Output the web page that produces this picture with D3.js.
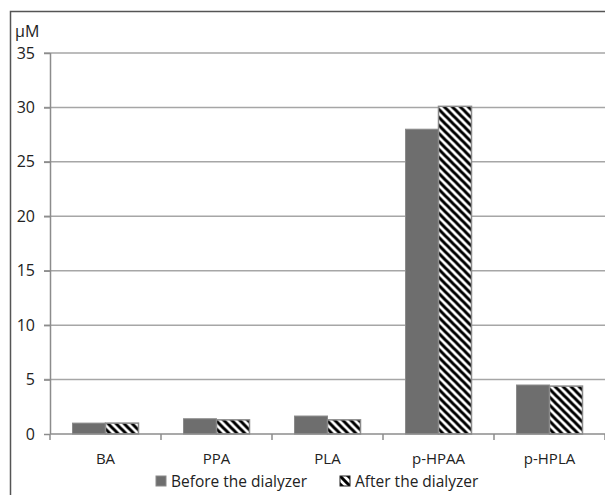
<!DOCTYPE html>
<html>
<head>
<meta charset="utf-8">
<script src="https://cdn.jsdelivr.net/npm/d3@7"></script>
<style>
	body { margin: 0; background: #fff; }
	svg text { font-family: "Open Sans", "Liberation Sans", sans-serif; fill: #222; }
</style>
</head>
<body>
<svg id="chart" width="605" height="495"></svg>
<script>
// chart data
var categories = ["BA", "PPA", "PLA", "p-HPAA", "p-HPLA"];
var seriesNames = ["Before the dialyzer", "After the dialyzer"];
var beforeValues = [1.0, 1.4, 1.65, 28.0, 4.5];
var afterValues = [1.0, 1.3, 1.3, 30.1, 4.4];
var yTicks = [0, 5, 10, 15, 20, 25, 30, 35];

var margin = {top: 53, right: 0, bottom: 61, left: 50},
	width = 605 - margin.left - margin.right,
	height = 495 - margin.top - margin.bottom;

var svg = d3.select("#chart");

// hatch pattern for the "after" series
var defs = svg.append("defs");
var pat = defs.append("pattern")
	.attr("id", "hatch")
	.attr("patternUnits", "userSpaceOnUse")
	.attr("width", 8)
	.attr("height", 8);
pat.append("rect").attr("width", 8).attr("height", 8).attr("fill", "#fff");
pat.append("path")
	.attr("d", "M-2,-2 L10,10 M-2,6 L2,10 M6,-2 L10,2")
	.attr("stroke", "#000")
	.attr("stroke-width", 3);

// outer frame (only left and top visible in the crop)
svg.append("path")
	.attr("d", "M10.5,495 L10.5,11.5 L605,11.5")
	.attr("fill", "none")
	.attr("stroke", "#555")
	.attr("stroke-width", 1.5);

var chart = svg.append("g")
	.attr("transform", "translate(" + margin.left + "," + margin.top + ")");

var x = d3.scaleBand()
	.domain(categories)
	.range([0, width]);

var y = d3.scaleLinear()
	.domain([0, 35])
	.range([height, 0]);

// gridlines
chart.selectAll(".grid")
	.data(yTicks.slice(1))
  .enter().append("line")
	.attr("class", "grid")
	.attr("x1", -6)
	.attr("x2", width)
	.attr("y1", function(d) { return y(d); })
	.attr("y2", function(d) { return y(d); })
	.attr("stroke", "#a6a6a6")
	.attr("stroke-width", 1.5);

// y axis
var yAxis = d3.axisLeft(y)
	.tickValues(yTicks)
	.tickSize(6)
	.tickPadding(9);
var yG = chart.append("g").call(yAxis);
yG.select(".domain").attr("stroke", "#8c8c8c").attr("stroke-width", 1.5).attr("d", "M0.5," + height + "V0");
yG.selectAll(".tick line").attr("stroke", "#8c8c8c").attr("stroke-width", 1.5);
yG.selectAll(".tick text").style("font-size", "16px").attr("fill", "#222");

// y unit
chart.append("text")
	.attr("x", -35)
	.attr("y", -16)
	.style("font-size", "16px")
	.text("\u03bcM");

// bars
var barW = 33;
var groups = chart.selectAll(".group")
	.data(categories)
  .enter().append("g")
	.attr("transform", function(d) { return "translate(" + (x(d) + x.bandwidth() / 2) + ",0)"; });

groups.append("rect")
	.attr("x", -barW)
	.attr("width", barW)
	.attr("y", function(d, i) { return y(beforeValues[i]); })
	.attr("height", function(d, i) { return height - y(beforeValues[i]); })
	.attr("fill", "#6e6e6e")
	.attr("stroke", "#8a8a8a")
	.attr("stroke-width", 1);

groups.append("rect")
	.attr("x", 0)
	.attr("width", barW)
	.attr("y", function(d, i) { return y(afterValues[i]); })
	.attr("height", function(d, i) { return height - y(afterValues[i]); })
	.attr("fill", "url(#hatch)")
	.attr("stroke", "#8a8a8a")
	.attr("stroke-width", 1.5);

// x axis with ticks between categories
chart.append("line")
	.attr("x1", 0).attr("x2", width)
	.attr("y1", height).attr("y2", height)
	.attr("stroke", "#8c8c8c")
	.attr("stroke-width", 1.5);
var boundaries = categories.map(function(d) { return x(d); }).concat([width]);
chart.selectAll(".xtick")
	.data(boundaries)
  .enter().append("line")
	.attr("x1", function(d) { return d; })
	.attr("x2", function(d) { return d; })
	.attr("y1", height)
	.attr("y2", height + 6)
	.attr("stroke", "#8c8c8c")
	.attr("stroke-width", 1.5);

chart.selectAll(".xlabel")
	.data(categories)
  .enter().append("text")
	.attr("x", function(d) { return x(d) + x.bandwidth() / 2; })
	.attr("y", height + 30)
	.attr("text-anchor", "middle")
	.style("font-size", "15px")
	.text(function(d) { return d; });

// legend
var legend = svg.append("g").attr("transform", "translate(156,476)");
legend.append("rect")
	.attr("width", 10).attr("height", 10)
	.attr("fill", "#6e6e6e").attr("stroke", "#8a8a8a");
legend.append("text")
	.attr("x", 15).attr("y", 10.5)
	.style("font-size", "15.5px")
	.text(seriesNames[0]);
legend.append("rect")
	.attr("x", 184).attr("width", 10).attr("height", 10)
	.attr("fill", "url(#hatch)").attr("stroke", "#222");
legend.append("text")
	.attr("x", 199).attr("y", 10.5)
	.style("font-size", "15.5px")
	.text(seriesNames[1]);
</script>
</body>
</html>
